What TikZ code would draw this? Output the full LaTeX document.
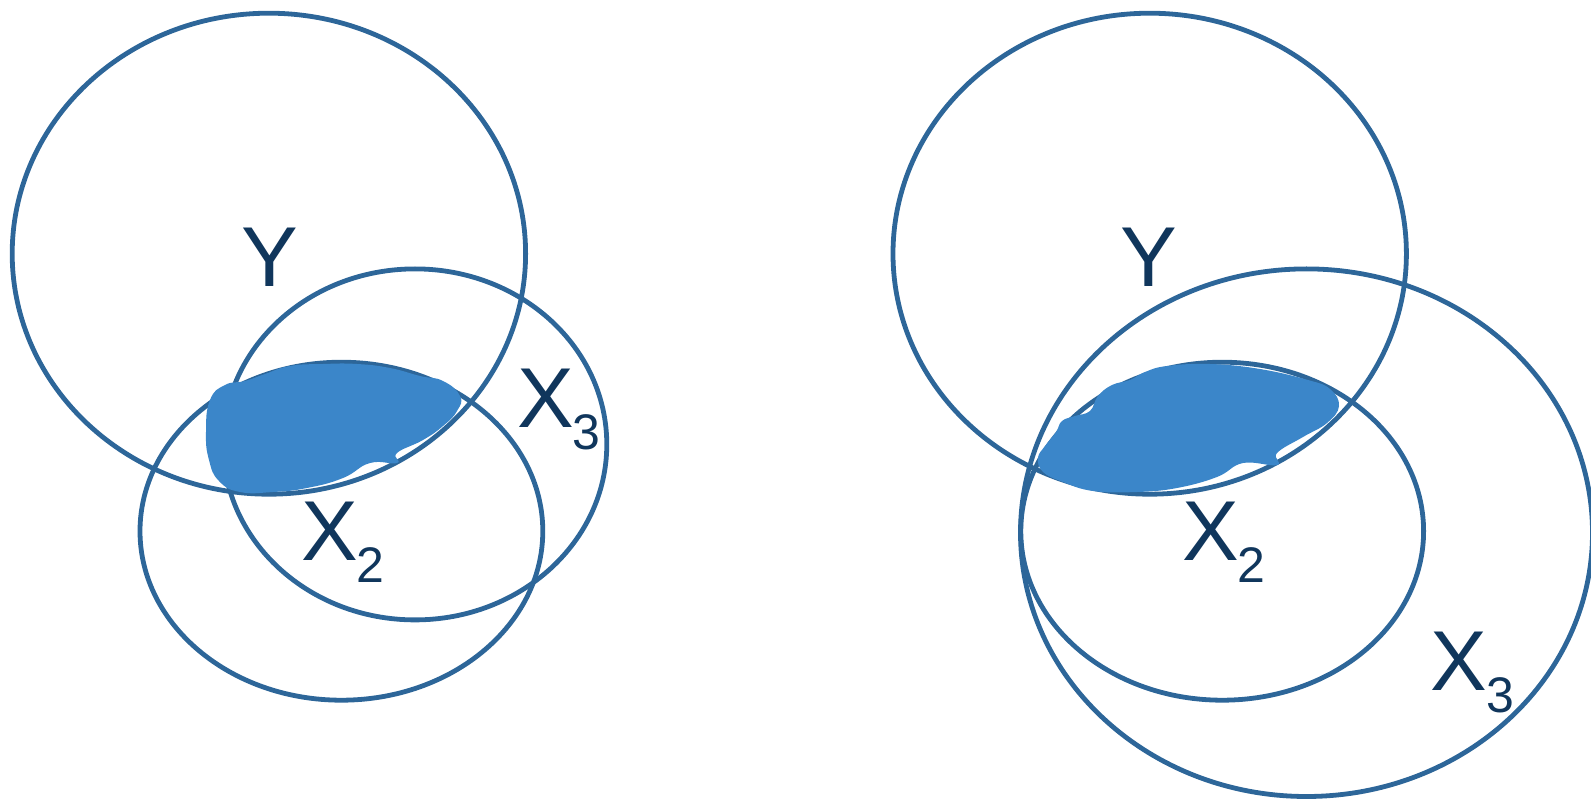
\documentclass[tikz,border=0pt]{standalone}
\usepackage{fontspec}
\setmainfont{Liberation Sans}
\definecolor{edge}{HTML}{2D6699}
\definecolor{blob}{HTML}{3B86C9}
\definecolor{ink}{HTML}{10365C}
\newcommand{\lbl}[2]{X\kern-1pt\raisebox{-22pt}{\fontsize{50}{50}\selectfont #2}}
\begin{document}
\begin{tikzpicture}[x=1pt,y=-1pt,
  set/.style={draw=edge,line width=4.8pt},
  shade/.style={fill=blob,draw=none},
  big/.style={text=ink,inner sep=0pt,font=\fontsize{85}{85}\selectfont}]
\useasboundingbox (0,0) rectangle (1591,799);
% left diagram
\draw[set] (268.9,253.7) ellipse [x radius=256.7pt,y radius=240.5pt];
\draw[set] (415,444.4) ellipse [x radius=191.8pt,y radius=175.5pt];
\draw[set] (341.4,531.2) ellipse [x radius=201.4pt,y radius=169pt];
\fill[shade] plot[smooth cycle,tension=0.8] coordinates {(206,432) (210,400) (225,385) (245,381) (265,374) (290,366) (323,364) (357,364) (390,368) (420,376) (443,381) (460,396) (457,411) (443,426) (423,440) (397,453) (397,463) (370,463) (343,478) (307,488) (273,492) (240,492) (219,481) (209,460)};
\node[big] (yl) at (269.4,257.2) {Y};
\node[big,anchor=base west] (x3l) at (517,427.2) {\lbl{X}{3}};
\node[big,anchor=base west] (x2l) at (301,560.1) {\lbl{X}{2}};
% right diagram
\draw[set] (1149.7,253.7) ellipse [x radius=256.7pt,y radius=240.5pt];
\draw[set] (1222.2,531.2) ellipse [x radius=201.4pt,y radius=169pt];
\draw[set] (1306.5,532.7) ellipse [x radius=286pt,y radius=263.8pt];
\fill[shade] plot[smooth cycle,tension=0.7] coordinates {(1038,458) (1045,446) (1056,432) (1062,421) (1075,416) (1090,411) (1098,396) (1112,385) (1130,380) (1145,372) (1167,366) (1210,364) (1260,369) (1308,380) (1330,389) (1339,406) (1327,423) (1303,437) (1277,453) (1277,465) (1243,463) (1217,477) (1177,488) (1137,492) (1093,491) (1063,482) (1043,472)};
\node[big] (yr) at (1149.2,257.2) {Y};
\node[big,anchor=base west] (x2r) at (1182,560.1) {\lbl{X}{2}};
\node[big,anchor=base west] (x3r) at (1430.7,690) {\lbl{X}{3}};
\end{tikzpicture}
\end{document}
